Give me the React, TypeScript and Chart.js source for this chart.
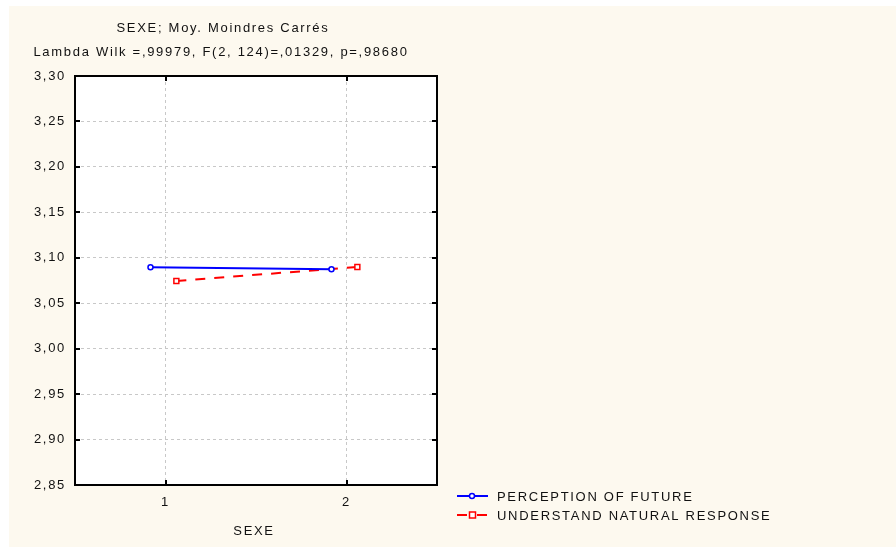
import React, { useEffect, useRef } from "react";
import { Chart, registerables } from "chart.js";

Chart.register(...registerables);

// Category positions on the SEXE axis and the least-squares means of each scale
const SEXE_TICKS = [1, 2];
const Y_TICKS = [3.3, 3.25, 3.2, 3.15, 3.1, 3.05, 3.0, 2.95, 2.9, 2.85];

const PERCEPTION_X = [0.917, 1.917];
const PERCEPTION_Y = [3.0895, 3.0875];

const UNDERSTAND_X = [1.06, 2.06];
const UNDERSTAND_Y = [3.0745, 3.0899];

const TITLE_LINE_1 = "SEXE; Moy. Moindres Carrés";
const TITLE_LINE_2 = "Lambda Wilk =,99979, F(2, 124)=,01329, p=,98680";
const X_TITLE = "SEXE";
const SERIES_NAMES = ["PERCEPTION OF FUTURE", "UNDERSTAND NATURAL RESPONSE"];

const FONT = "13px 'Liberation Sans', Arial, sans-serif";
const SPACING = "1.7px";
const BG = "#FDF9EF";
const BLUE = "#0000FF";
const RED = "#FF0000";

const fmt = (v: number) => v.toFixed(2).replace(".", ",");

const decorPlugin = {
  id: "statDecor",
  beforeDraw(chart: any) {
    const ctx = chart.ctx as CanvasRenderingContext2D;
    const { left, right, top, bottom } = chart.chartArea;
    ctx.save();
    ctx.fillStyle = "#FFFFFF";
    ctx.fillRect(0, 0, chart.width, chart.height);
    ctx.fillStyle = BG;
    ctx.fillRect(9, 6, chart.width - 9, chart.height - 6);
    // white plotting area
    ctx.fillStyle = "#FFFFFF";
    ctx.fillRect(left, top, right - left, bottom - top);
    ctx.restore();
    // spaced-out lettering used by every label on the page
    (ctx as any).letterSpacing = SPACING;
  },
  afterDraw(chart: any) {
    const ctx = chart.ctx as CanvasRenderingContext2D;
    const { left, right, top, bottom } = chart.chartArea;
    const xs = chart.scales.x;
    const ys = chart.scales.y;
    ctx.save();
    (ctx as any).letterSpacing = SPACING;

    // frame
    ctx.strokeStyle = "#000000";
    ctx.lineWidth = 2;
    ctx.strokeRect(left, top, right - left, bottom - top);

    // inward tick marks
    ctx.lineWidth = 2;
    ctx.beginPath();
    Y_TICKS.forEach((v) => {
      const y = Math.round(ys.getPixelForValue(v));
      ctx.moveTo(left, y);
      ctx.lineTo(left + 5, y);
      ctx.moveTo(right, y);
      ctx.lineTo(right - 5, y);
    });
    SEXE_TICKS.forEach((v) => {
      const x = Math.round(xs.getPixelForValue(v));
      ctx.moveTo(x, top);
      ctx.lineTo(x, top + 5);
      ctx.moveTo(x, bottom);
      ctx.lineTo(x, bottom - 5);
    });
    ctx.stroke();

    // titles
    ctx.fillStyle = "#111111";
    ctx.font = FONT;
    ctx.textAlign = "center";
    ctx.textBaseline = "middle";
    ctx.fillText(TITLE_LINE_1, 223, 28);
    ctx.fillText(TITLE_LINE_2, 221, 52);
    ctx.fillText(X_TITLE, 254, 531);

    // legend
    const rows = [
      { name: SERIES_NAMES[0], color: BLUE, dash: [] as number[], style: "circle", y: 496 },
      { name: SERIES_NAMES[1], color: RED, dash: [10, 6], style: "rect", y: 515 },
    ];
    rows.forEach((r) => {
      ctx.strokeStyle = r.color;
      ctx.lineWidth = 2;
      ctx.setLineDash(r.dash);
      ctx.beginPath();
      if (r.dash.length) {
        ctx.moveTo(457, r.y);
        ctx.lineTo(469, r.y);
        ctx.moveTo(477, r.y);
        ctx.lineTo(488, r.y);
      } else {
        ctx.moveTo(457, r.y);
        ctx.lineTo(488, r.y);
      }
      ctx.stroke();
      ctx.setLineDash([]);
      ctx.lineWidth = 1.5;
      ctx.fillStyle = "#FFFFFF";
      ctx.beginPath();
      if (r.style === "circle") {
        ctx.arc(472, r.y, 2.5, 0, Math.PI * 2);
      } else {
        ctx.rect(469.5, r.y - 3, 6, 6);
      }
      ctx.fill();
      ctx.stroke();
      ctx.fillStyle = "#111111";
      ctx.textAlign = "left";
      ctx.fillText(r.name, 497, r.y + 1);
    });
    ctx.restore();
  },
};

export default function App() {
  const ref = useRef<HTMLCanvasElement | null>(null);

  useEffect(() => {
    if (!ref.current) return;
    const chart = new Chart(ref.current, {
      type: "line",
      data: {
        datasets: [
          {
            label: SERIES_NAMES[0],
            data: PERCEPTION_X.map((x, i) => ({ x, y: PERCEPTION_Y[i] })),
            borderColor: BLUE,
            borderWidth: 2,
            pointStyle: "circle",
            pointRadius: 2.5,
            pointBorderWidth: 1.5,
            pointBackgroundColor: "#FFFFFF",
            pointBorderColor: BLUE,
            tension: 0,
          },
          {
            label: SERIES_NAMES[1],
            data: UNDERSTAND_X.map((x, i) => ({ x, y: UNDERSTAND_Y[i] })),
            borderColor: RED,
            borderWidth: 2,
            borderDash: [10, 9],
            pointStyle: "rect",
            pointRadius: 3.5,
            pointBorderWidth: 1.5,
            pointBackgroundColor: "#FFFFFF",
            pointBorderColor: RED,
            tension: 0,
          },
        ],
      },
      options: {
        animation: false,
        responsive: false,
        layout: { padding: { top: 76, left: 0, right: 459, bottom: 0 } },
        plugins: {
          legend: { display: false },
          title: { display: false },
          tooltip: { enabled: false },
        },
        scales: {
          x: {
            type: "linear",
            min: 0.5,
            max: 2.5,
            afterBuildTicks: (axis: any) => {
              axis.ticks = SEXE_TICKS.map((v) => ({ value: v }));
            },
            afterFit: (axis: any) => {
              axis.height = 62;
            },
            grid: { color: "#C8C8C8", lineWidth: 1, drawTicks: false },
            border: { display: false, dash: [3, 3] },
            ticks: {
              color: "#111111",
              padding: 10,
              font: { family: "'Liberation Sans', Arial, sans-serif", size: 13 },
              callback: (v: any) => String(v),
            },
          },
          y: {
            type: "linear",
            min: 2.85,
            max: 3.3,
            afterBuildTicks: (axis: any) => {
              axis.ticks = Y_TICKS.map((v) => ({ value: v }));
            },
            afterFit: (axis: any) => {
              axis.width = 75;
            },
            grid: { color: "#C8C8C8", lineWidth: 1, drawTicks: false },
            border: { display: false, dash: [3, 3] },
            ticks: {
              color: "#111111",
              padding: 9,
              font: { family: "'Liberation Sans', Arial, sans-serif", size: 13 },
              callback: (v: any) => fmt(Number(v)),
            },
          },
        },
      },
      plugins: [decorPlugin],
    } as any);
    return () => chart.destroy();
  }, []);

  return (
    <div style={{ position: "absolute", left: 0, top: 0, width: 896, height: 547 }}>
      <canvas ref={ref} width={896} height={547} style={{ display: "block" }} />
    </div>
  );
}
